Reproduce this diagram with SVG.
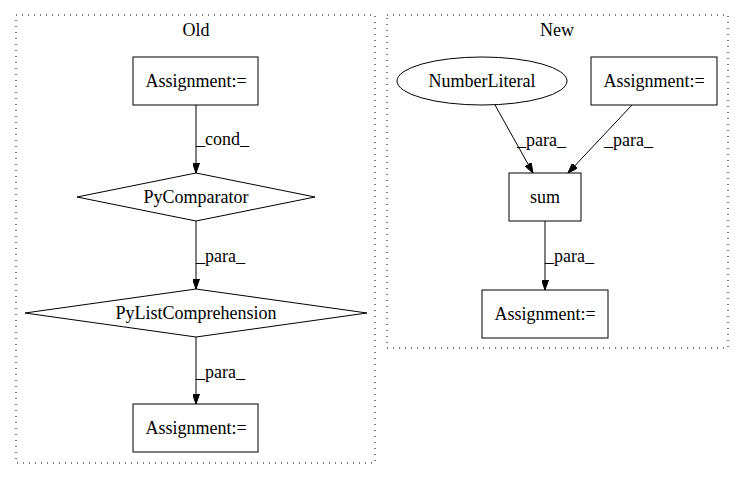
<svg xmlns="http://www.w3.org/2000/svg" width="744" height="480" viewBox="0 0 744 480">
<style>
text{font-family:"Liberation Serif","Times New Roman",serif;font-size:18px;fill:#000}
.c{fill:none;stroke:#000;stroke-dasharray:1,5}
.n{fill:#fff;stroke:#000;stroke-width:1}
.e{fill:none;stroke:#000;stroke-width:1}
.lbl{text-anchor:middle}
</style>
<defs>
<marker id="ah" viewBox="0 0 10 7" refX="10" refY="3.5" markerWidth="10" markerHeight="7" markerUnits="userSpaceOnUse" orient="auto">
<path d="M0,0 L10,3.5 L0,7 Z" fill="#000" stroke="#000"/>
</marker>
</defs>
<rect width="744" height="480" fill="#fff"/>
<g id="cluster_old">
<rect class="c" x="16" y="15" width="359" height="448"/>
<text class="lbl" x="196" y="36">Old</text>
</g>
<g id="cluster_new">
<rect class="c" x="387" y="15" width="341" height="333"/>
<text class="lbl" x="557" y="36">New</text>
</g>
<g id="edges">
<path class="e" d="M196,105 L196,173" marker-end="url(#ah)"/>
<text x="196" y="145">_cond_</text>
<path class="e" d="M196,221 L196,289" marker-end="url(#ah)"/>
<text x="196" y="262">_para_</text>
<path class="e" d="M196,337 L196,404" marker-end="url(#ah)"/>
<text x="196" y="378">_para_</text>
<path class="e" d="M495,105 L533,173" marker-end="url(#ah)"/>
<text x="517" y="146">_para_</text>
<path class="e" d="M632,105 L568,173" marker-end="url(#ah)"/>
<text x="604" y="146">_para_</text>
<path class="e" d="M545,221 L545,290" marker-end="url(#ah)"/>
<text x="545" y="262">_para_</text>
</g>
<g id="old_assign_top">
<rect class="n" x="133" y="57" width="125" height="48"/>
<text class="lbl" x="196" y="87">Assignment:=</text>
</g>
<g id="old_pycomparator">
<polygon class="n" points="196,173 315,197 196,221 77,197"/>
<text class="lbl" x="196" y="203">PyComparator</text>
</g>
<g id="old_pylistcomp">
<polygon class="n" points="196,289 367,313 196,337 25,313"/>
<text class="lbl" x="196" y="319">PyListComprehension</text>
</g>
<g id="old_assign_bottom">
<rect class="n" x="133" y="404" width="125" height="48"/>
<text class="lbl" x="196" y="434">Assignment:=</text>
</g>
<g id="new_numberliteral">
<ellipse class="n" cx="482" cy="81" rx="85" ry="24"/>
<text class="lbl" x="482" y="87">NumberLiteral</text>
</g>
<g id="new_assign_top">
<rect class="n" x="591" y="57" width="126" height="48"/>
<text class="lbl" x="654" y="87">Assignment:=</text>
</g>
<g id="new_sum">
<rect class="n" x="509" y="173" width="72" height="48"/>
<text class="lbl" x="545" y="203">sum</text>
</g>
<g id="new_assign_bottom">
<rect class="n" x="482" y="290" width="126" height="48"/>
<text class="lbl" x="545" y="320">Assignment:=</text>
</g>
</svg>
